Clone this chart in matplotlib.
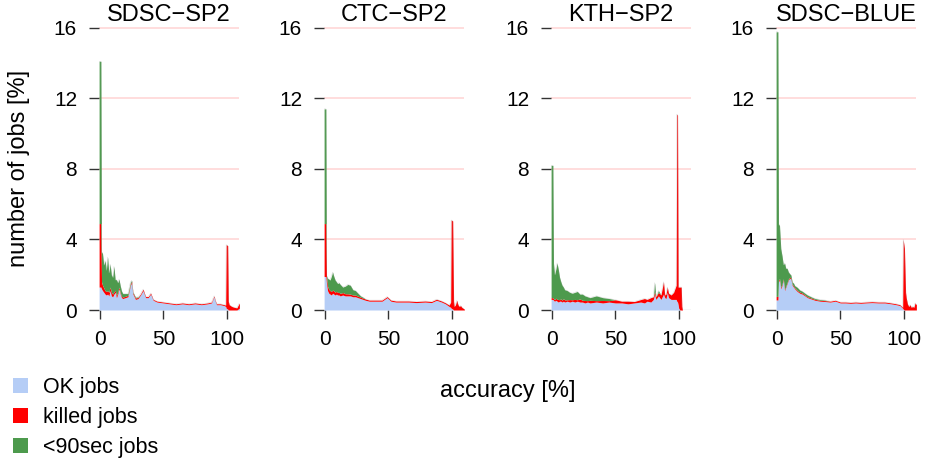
import matplotlib
matplotlib.use("Agg")
import matplotlib.pyplot as plt
from matplotlib.patches import Rectangle
import numpy as np

plt.rcParams['font.family'] = ['Liberation Sans', 'DejaVu Sans']

# accuracy [%] histograms, values in % of jobs, layers stacked: ok / killed / <90sec
sp2_x = [-0.7, 0.7, 1.2, 2, 3, 4, 5, 6, 7, 8, 9, 10, 11, 12, 13, 14, 15, 16, 17, 18,
         20, 22, 24, 25, 26, 28, 30, 32, 34, 36, 38, 40, 42, 45,
         50, 55, 60, 65, 70, 75, 80, 85, 88, 90, 91, 92, 95, 98, 99.2,
         99.6, 100.8, 101.3, 102, 104, 106, 108, 110]
sp2_ok = [1.3, 1.3, 1.2, 1.1, 1.0, 0.9, 0.85, 0.9, 0.8, 1.1, 0.8, 0.75, 0.9, 1.0, 0.7, 0.9, 1.2, 0.9, 0.7, 0.65,
          0.7, 0.75, 1.4, 1.55, 0.9, 0.6, 0.65, 0.85, 1.1, 0.7, 0.7, 0.9, 0.55, 0.45,
          0.4, 0.35, 0.3, 0.35, 0.3, 0.35, 0.3, 0.35, 0.4, 0.75, 0.5, 0.3, 0.3, 0.25, 0.2,
          0.1, 0.05, 0.0, 0.0, 0.0, 0.0, 0.0, 0.1]
sp2_killed = [3.6, 3.6, 0.4, 0.3, 0.25, 0.2, 0.2, 0.2, 0.2, 0.2, 0.2, 0.15, 0.12, 0.12, 0.12, 0.1, 0.1, 0.08, 0.08, 0.08,
              0.08, 0.08, 0.08, 0.08, 0.08, 0.08, 0.06, 0.06, 0.08, 0.06, 0.06, 0.06, 0.05, 0.05,
              0.05, 0.05, 0.05, 0.05, 0.05, 0.05, 0.05, 0.05, 0.05, 0.05, 0.05, 0.05, 0.05, 0.05, 0.08,
              3.6, 3.6, 0.5, 0.3, 0.2, 0.15, 0.12, 0.3]
sp2_short = [9.2, 9.2, 1.7, 1.8, 1.3, 1.7, 1.2, 1.9, 1.1, 1.3, 1.0, 0.95, 1.45, 0.6, 0.9, 0.55, 0.45, 0.4, 0.3, 0.2,
             0.15, 0.1, 0.1, 0.05, 0.05, 0.05, 0.03, 0, 0, 0, 0, 0, 0, 0,
             0, 0, 0, 0, 0, 0, 0, 0, 0, 0, 0, 0, 0, 0, 0,
             0, 0, 0, 0, 0, 0, 0, 0]

ctc_x = [-0.7, 0.7, 1.2, 2, 3, 4, 5, 6, 7, 8, 9, 10, 11, 12,
         14, 16, 18, 20, 22, 24, 26, 28, 30, 32,
         35, 40, 45, 49, 52, 56, 60, 66, 72, 79, 84, 88, 92, 95, 98, 99.2,
         99.6, 100.8, 101.5, 102, 103, 104, 105, 106, 107, 108, 110]
ctc_ok = [1.9, 1.9, 1.5, 1.1, 0.95, 0.9, 0.85, 0.95, 0.9, 0.85, 0.9, 0.85, 0.85, 0.8,
          0.85, 0.8, 0.8, 0.8, 0.75, 0.75, 0.7, 0.65, 0.6, 0.55,
          0.5, 0.5, 0.5, 0.7, 0.5, 0.45, 0.45, 0.45, 0.42, 0.45, 0.42, 0.55, 0.45, 0.35, 0.2, 0.15,
          0.1, 0.05, 0, 0, 0, 0, 0, 0, 0, 0, 0]
ctc_killed = [3.0, 3.0, 0.4, 0.25, 0.22, 0.2, 0.2, 0.18, 0.18, 0.16, 0.16, 0.15, 0.15, 0.14,
              0.14, 0.12, 0.12, 0.1, 0.1, 0.1, 0.08, 0.08, 0.07, 0.07,
              0.06, 0.06, 0.06, 0.06, 0.06, 0.06, 0.06, 0.06, 0.06, 0.06, 0.06, 0.06, 0.06, 0.06, 0.08, 0.3,
              5.0, 5.0, 0.5, 0.2, 0.3, 0.55, 0.3, 0.2, 0.25, 0.15, 0.05]
ctc_short = [6.5, 6.5, 0.05, 0.45, 0.58, 0.6, 0.85, 1.02, 0.82, 0.69, 0.54, 0.5, 0.55, 0.51,
             0.31, 0.43, 0.53, 0.5, 0.3, 0.25, 0.17, 0.07, 0.05, 0,
             0, 0, 0, 0, 0, 0, 0, 0, 0, 0, 0, 0, 0, 0, 0, 0,
             0, 0, 0, 0, 0, 0, 0, 0, 0, 0, 0]

kth_x = [-0.7, 0.7, 1.2, 2, 3, 4, 5, 6, 7, 8, 9, 10,
         12, 14, 16, 18, 20, 22, 24, 26, 28, 30,
         35, 40, 45, 50, 55, 60, 65, 70,
         73, 75, 78, 80, 81, 82, 84, 86, 88, 89, 90, 91, 92, 94, 96, 98, 98.5, 99.1,
         99.6, 100, 101, 102, 102.5, 103, 105, 110]
kth_ok = [0.6, 0.6, 0.55, 0.5, 0.55, 0.5, 0.45, 0.5, 0.5, 0.45, 0.5, 0.45,
          0.5, 0.45, 0.5, 0.45, 0.5, 0.45, 0.45, 0.4, 0.45, 0.4,
          0.45, 0.4, 0.45, 0.4, 0.4, 0.35, 0.4, 0.45,
          0.4, 0.5, 0.45, 0.6, 0.9, 0.6, 0.8, 0.6, 0.9, 0.7, 0.65, 1.0, 0.7, 0.6, 0.6, 0.6, 0.5, 0.45,
          0.3, 0.1, 0, 0, 0, 0, 0, 0]
kth_killed = [0.1, 0.1, 0.1, 0.08, 0.12, 0.1, 0.15, 0.08, 0.14, 0.1, 0.15, 0.12,
              0.08, 0.14, 0.08, 0.15, 0.08, 0.18, 0.1, 0.14, 0.08, 0.15,
              0.08, 0.14, 0.08, 0.18, 0.1, 0.15, 0.08, 0.14,
              0.25, 0.1, 0.25, 0.15, 0.15, 0.15, 0.2, 0.25, 0.7, 0.15, 0.25, 0.3, 0.25, 0.25, 0.4, 0.8, 10.6, 10.6,
              1.0, 1.2, 1.3, 1.3, 0.2, 0.0, 0.0, 0.0]
kth_short = [7.5, 7.5, 2.0, 1.42, 1.63, 2.06, 1.7, 1.27, 0.96, 0.85, 0.65, 0.58,
             0.52, 0.41, 0.37, 0.4, 0.47, 0.27, 0.35, 0.26, 0.22, 0.15,
             0.27, 0.16, 0.12, 0, 0, 0, 0, 0,
             0, 0, 0, 0, 0.5, 0, 0.1, 0, 0, 0, 0, 0, 0, 0, 0, 0, 0, 0,
             0, 0, 0, 0, 0, 0, 0, 0]

blue_x = [-0.7, 0.7, 1.2, 2, 3, 4, 5, 6, 7, 8, 9, 10, 11, 12, 13, 14,
          16, 18, 20, 22, 24, 26, 28, 30,
          34, 38, 42, 46, 50, 54, 58, 62, 66, 70,
          75, 80, 85, 90, 94, 97, 99.2,
          99.6, 100.6, 101.5, 102, 103, 104, 105, 106, 107, 108, 109, 110]
blue_ok = [0.57, 0.57, 1.6, 1.7, 1.2, 1.4, 1.7, 1.1, 1.3, 1.5, 1.7, 1.8, 1.75, 1.4, 1.3, 1.2,
           1.05, 0.95, 0.9, 0.8, 0.7, 0.65, 0.6, 0.55,
           0.5, 0.48, 0.45, 0.5, 0.4, 0.4, 0.38, 0.4, 0.38, 0.4,
           0.42, 0.4, 0.4, 0.35, 0.3, 0.25, 0.1,
           0.05, 0, 0, 0, 0, 0, 0, 0, 0, 0, 0, 0]
blue_killed = [0.2, 0.2, 0.08, 0.08, 0.08, 0.07, 0.07, 0.06, 0.06, 0.06, 0.06, 0.06, 0.06, 0.06, 0.06, 0.06,
               0.06, 0.06, 0.06, 0.05, 0.05, 0.05, 0.05, 0.05,
               0.05, 0.05, 0.05, 0.05, 0.05, 0.05, 0.05, 0.05, 0.05, 0.05,
               0.05, 0.05, 0.05, 0.05, 0.05, 0.05, 0.05,
               3.95, 3.5, 1.0, 0.7, 0.35, 0.2, 0.3, 0.15, 0.2, 0.15, 0.4, 0.3]
blue_short = [15.0, 15.0, 3.2, 3.0, 2.2, 1.6, 0.8, 1.5, 1.0, 0.8, 0.4, 0.2, 0.17, 0.12, 0.17, 0.12,
              0.17, 0.12, 0.1, 0.1, 0.1, 0.08, 0.06, 0.05,
              0.04, 0.03, 0, 0, 0, 0, 0, 0, 0, 0,
              0, 0, 0, 0, 0, 0, 0,
              0, 0, 0, 0, 0, 0, 0, 0, 0, 0, 0, 0]

panel_names = ["SDSC\u2212SP2", "CTC\u2212SP2", "KTH\u2212SP2", "SDSC\u2212BLUE"]
panel_data = [(sp2_x, sp2_ok, sp2_killed, sp2_short),
              (ctc_x, ctc_ok, ctc_killed, ctc_short),
              (kth_x, kth_ok, kth_killed, kth_short),
              (blue_x, blue_ok, blue_killed, blue_short)]
legend_labels = ["OK jobs", "killed jobs", "<90sec jobs"]

BLUE = '#B5CDF6'
RED = '#FF0000'
GREEN = '#4D9A4D'
GRID = '#FFDADA'

W, H = 933, 459
fig = plt.figure(figsize=(W / 100, H / 100), dpi=100)

# x=0 sits at these pixel columns
zeros_px = [100, 325, 552, 777]
xmin, xmax = -1, 110
ppu = 1.267
ymax = 16.1
for name, (x, ok, kil, sh), x0 in zip(panel_names, panel_data, zeros_px):
    x = np.array(x)
    ok = np.array(ok)
    k_top = ok + np.array(kil)
    top = k_top + np.array(sh)
    left = x0 + xmin * ppu
    ax = fig.add_axes([left / W, (H - 310) / H, (xmax - xmin) * ppu / W, ymax * 17.64 / H])
    for v in (4, 8, 12, 16):
        ax.axhline(v, color=GRID, lw=1.3, zorder=0)
    ax.fill_between(x, 0, ok, color=BLUE, lw=0, zorder=2)
    ax.fill_between(x, ok, k_top, color=RED, lw=0, zorder=2)
    ax.fill_between(x, k_top, top, color=GREEN, lw=0, zorder=2)
    ax.plot(x, top, color='#9A9A9A', lw=0.4, alpha=0.35, zorder=3)
    ax.set_xlim(xmin, xmax)
    ax.set_ylim(0, ymax)
    for s in ax.spines.values():
        s.set_visible(False)
    ax.set_xticks([0, 50, 100])
    ax.set_yticks([0, 4, 8, 12, 16])
    ax.tick_params(axis='y', length=7.2, width=1, color='#333333', labelsize=15, pad=8.4)
    ax.tick_params(axis='x', length=6.5, width=1, color='#333333', labelsize=15, pad=8)
    ax.set_title(name, fontsize=17, pad=1)

fig.text(19.5 / W, 1 - 168 / H, "number of jobs [%]", rotation=90,
         ha='center', va='center', fontsize=17)
fig.text(507.5 / W, (H - 396.7) / H, "accuracy [%]", ha='center', va='baseline', fontsize=17)

leg_colors = [BLUE, RED, GREEN]
leg_base = [393, 423, 453]
for lab, col, b in zip(legend_labels, leg_colors, leg_base):
    fig.add_artist(Rectangle((12.7 / W, (H - b) / H), 15 / W, 15 / H,
                             transform=fig.transFigure, color=col, lw=0))
    fig.text(42.7 / W, (H - b) / H, lab, ha='left', va='baseline', fontsize=15.5)

fig.savefig("out.png", dpi=100)
